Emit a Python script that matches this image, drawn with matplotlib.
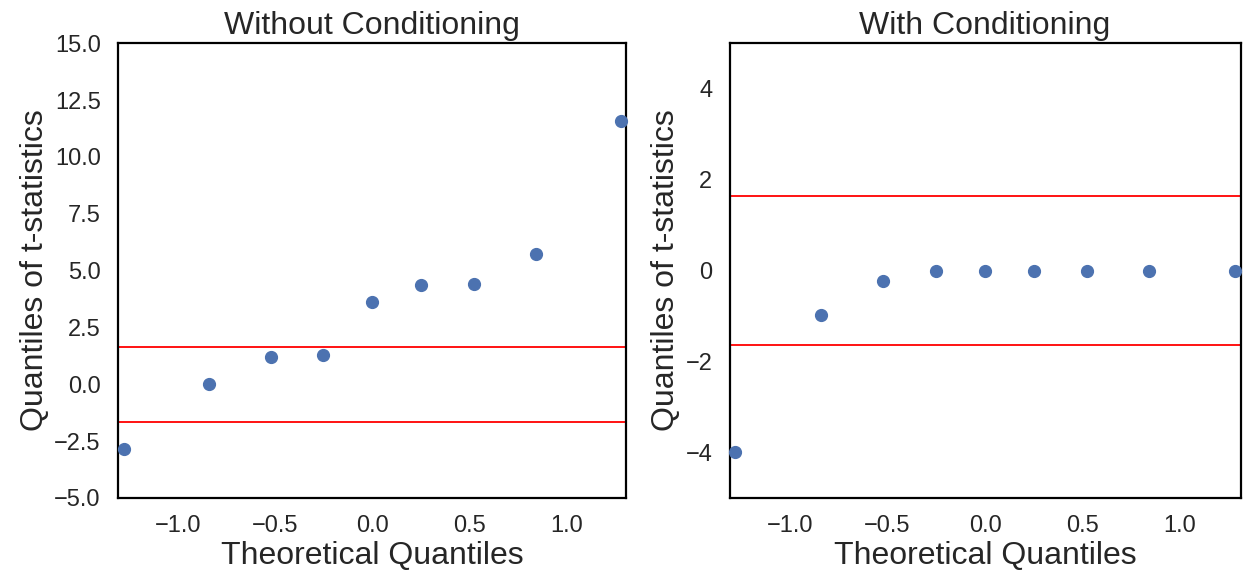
import matplotlib
matplotlib.use('Agg')
import matplotlib.pyplot as plt
import seaborn as sns

sns.set_style('white')
plt.rcParams['font.family'] = ['Liberation Sans', 'DejaVu Sans']
plt.rcParams['axes.edgecolor'] = 'black'

# theoretical normal quantiles for 9 points
theo_q = [-1.2816, -0.8416, -0.5244, -0.2533, 0.0, 0.2533, 0.5244, 0.8416, 1.2816]
t_without = [-2.85, 0.02, 1.2, 1.28, 3.63, 4.37, 4.42, 5.73, 11.6]
t_with = [-3.99, -0.98, -0.23, 0.0, 0.0, 0.0, 0.0, 0.0, 0.0]
crit = 1.645

fig = plt.figure(figsize=(12.43, 5.77), dpi=100)
ax1 = fig.add_axes([0.095, 0.137, 0.409, 0.788])
ax2 = fig.add_axes([0.587, 0.137, 0.411, 0.788])

panels = [(ax1, t_without, 'Without Conditioning', (-5, 15)),
          (ax2, t_with, 'With Conditioning', (-5, 5))]
for ax, vals, title, ylim in panels:
    ax.plot(theo_q, vals, 'o', color='#4C72B0', markersize=8.5, clip_on=False, zorder=3)
    ax.axhline(crit, color='red', lw=1.3)
    ax.axhline(-crit, color='red', lw=1.3)
    ax.set_xlim(-1.31, 1.31)
    ax.set_ylim(*ylim)
    ax.set_title(title, fontsize=23, pad=7)
    ax.set_xlabel('Theoretical Quantiles', fontsize=23, labelpad=3)
    ax.set_ylabel('Quantiles of t-statistics', fontsize=23, labelpad=3)
    ax.tick_params(labelsize=17, pad=9)
    for s in ax.spines.values():
        s.set_linewidth(1.6)

ax2.set_yticks([-4, -2, 0, 2, 4])

fig.savefig('out.png', dpi=100)
